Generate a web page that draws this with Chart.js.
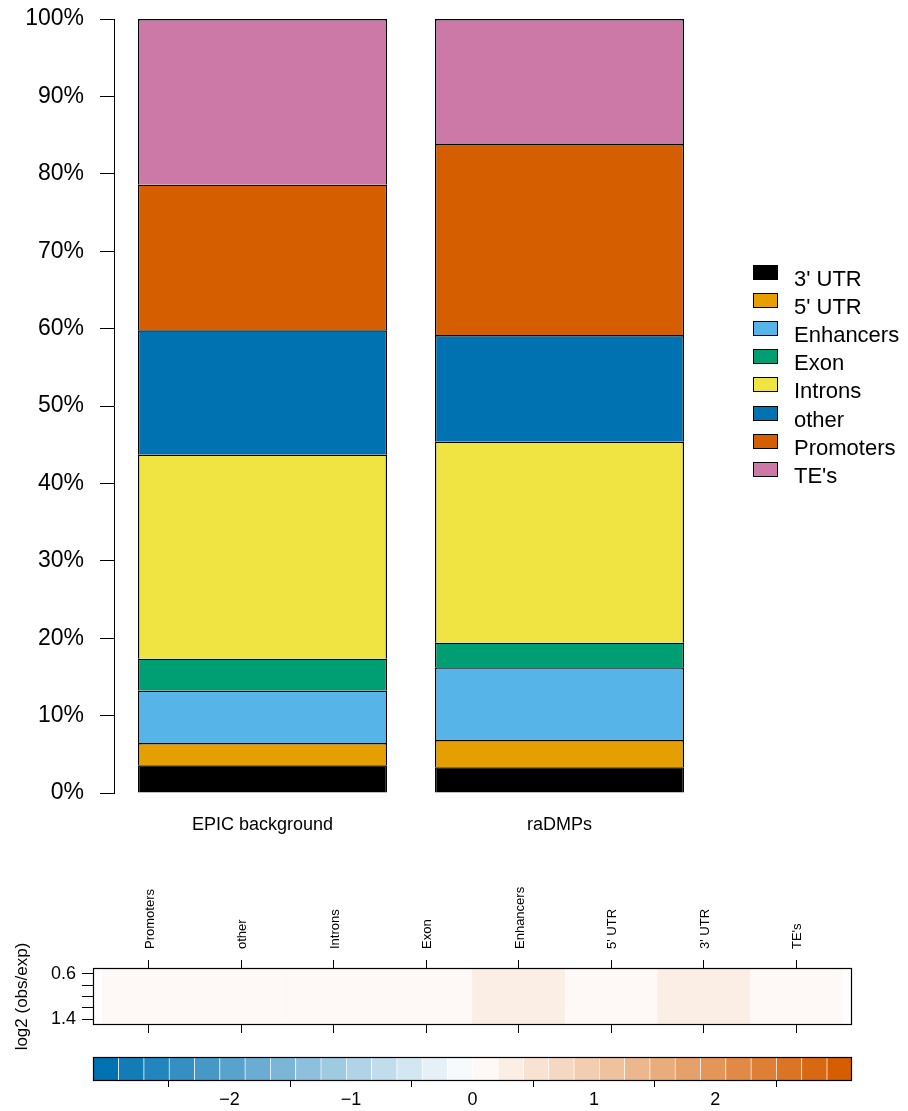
<!DOCTYPE html>
<html>
<head>
<meta charset="utf-8">
<script src="https://cdn.jsdelivr.net/npm/chart.js@4/dist/chart.umd.min.js"></script>
<style>
  html, body { margin: 0; padding: 0; background: #fff; }
  #wrap { position: relative; width: 908px; height: 1111px; }
  canvas { position: absolute; left: 0; }
</style>
</head>
<body>
<div id="wrap">
  <canvas id="bars" width="908" height="860" style="top:0"></canvas>
  <canvas id="heat" width="908" height="241" style="top:870px"></canvas>
  <canvas id="key" width="908" height="71" style="top:1040px"></canvas>
</div>
<script>
// ---- stacked composition (% of probes per genomic region) ----
const groups = ['EPIC background', 'raDMPs'];
const regionNames = ["3' UTR", "5' UTR", 'Enhancers', 'Exon', 'Introns', 'other', 'Promoters', "TE's"];
const utr3      = [3.58, 3.32];
const utr5      = [2.88, 3.53];
const enhancers = [6.76, 9.39];
const exon      = [4.14, 3.18];
const introns   = [26.35, 25.97];
const other     = [16.07, 13.78];
const promoters = [18.82, 24.68];
const tes       = [21.40, 16.15];
const regionColors = ['#000000', '#E69F00', '#56B4E9', '#009E73', '#F0E442', '#0072B2', '#D55E00', '#CC79A7'];

// ---- enrichment strip: log2(obs/exp) per region ----
const heatLabels = ['Promoters', 'other', 'Introns', 'Exon', 'Enhancers', "5' UTR", "3' UTR", "TE's"];
const heatValues = [0.08, 0.05, 0.06, 0.04, 0.24, 0.07, 0.22, 0.05];
const heatRowTicks = [0.6, 0.8, 1.0, 1.2, 1.4];
const heatRowLabels = ['0.6', '', '', '', '1.4'];
const keyTicks = [-2, -1, 0, 1, 2];

// diverging palette, 30 bins over [-2.5, 2.5]
const LOW = [0, 114, 178], MID = [255, 255, 255], HIGH = [213, 94, 0];
const NBINS = 30, ZMIN = -2.5, ZMAX = 2.5;
function binColor(k) {
  const t = k / (NBINS - 1);
  let a, b, f;
  if (t <= 0.5) { a = LOW; b = MID; f = t / 0.5; } else { a = MID; b = HIGH; f = (t - 0.5) / 0.5; }
  return 'rgb(' + a.map((c, j) => Math.round(c + (b[j] - c) * f)).join(',') + ')';
}
function valueColor(v) {
  let k = Math.floor((v - ZMIN) / ((ZMAX - ZMIN) / NBINS));
  k = Math.max(0, Math.min(NBINS - 1, k));
  return binColor(k);
}

Chart.defaults.font.family = '"Liberation Sans", Arial, Helvetica, sans-serif';
Chart.defaults.color = '#000';

// keep the plot area exactly where the layout padding puts it
function noEdgePadding(s) { s.paddingTop = 0; s.paddingBottom = 0; s.paddingLeft = 0; s.paddingRight = 0; }

// legend drawn to the right of the bars, one entry per dataset
const regionKey = {
  id: 'regionKey',
  afterDraw(chart, args, o) {
    const ctx = chart.ctx;
    ctx.save();
    ctx.font = '22px "Liberation Sans", Arial, Helvetica, sans-serif';
    ctx.textBaseline = 'alphabetic';
    ctx.textAlign = 'left';
    chart.data.datasets.forEach((ds, i) => {
      const y = Math.round(o.top + i * o.step);
      ctx.fillStyle = ds.backgroundColor;
      ctx.fillRect(o.left, y, o.boxW, o.boxH);
      ctx.strokeStyle = '#000';
      ctx.lineWidth = 1;
      ctx.strokeRect(o.left + 0.5, y + 0.5, o.boxW - 1, o.boxH - 1);
      ctx.fillStyle = '#000';
      ctx.fillText(ds.label, o.textLeft, y + o.baseline);
    });
    ctx.restore();
  }
};

// black box around the plotting area
const frame = {
  id: 'frame',
  afterDatasetsDraw(chart) {
    const a = chart.chartArea, ctx = chart.ctx;
    ctx.save();
    ctx.strokeStyle = '#000';
    ctx.lineWidth = 1.2;
    ctx.strokeRect(Math.round(a.left) + 0.5, Math.round(a.top) + 0.5,
                   Math.round(a.right - a.left) - 1, Math.round(a.bottom - a.top) - 1);
    ctx.restore();
  }
};

const seriesValues = [utr3, utr5, enhancers, exon, introns, other, promoters, tes];

new Chart(document.getElementById('bars'), {
  type: 'bar',
  data: {
    labels: groups,
    datasets: regionNames.map((name, i) => ({
      label: name,
      data: seriesValues[i],
      backgroundColor: regionColors[i],
      borderColor: '#000',
      borderWidth: 1.4,
      inflateAmount: 0,
      barPercentage: 249 / 297,
      categoryPercentage: 1
    }))
  },
  plugins: [regionKey],
  options: {
    responsive: false,
    animation: false,
    layout: { padding: { top: 19, right: 200, left: 0, bottom: 0 } },
    plugins: {
      legend: { display: false },
      tooltip: { enabled: false },
      regionKey: { left: 753, top: 265, step: 28.1, boxW: 25, boxH: 15, textLeft: 794, baseline: 21 }
    },
    scales: {
      x: {
        stacked: true,
        grid: { display: false, drawTicks: false },
        border: { display: false },
        ticks: { font: { size: 18 }, padding: 21, color: '#000' },
        afterFit(s) { s.height = 67; noEdgePadding(s); }
      },
      y: {
        stacked: true,
        min: 0, max: 100,
        ticks: { stepSize: 10, callback: v => v + '%', font: { size: 23 }, padding: 16, color: '#000' },
        grid: { drawOnChartArea: false, tickLength: 14, color: '#000' },
        border: { display: true, color: '#000' },
        afterFit(s) { s.width = 114; noEdgePadding(s); }
      }
    }
  }
});

new Chart(document.getElementById('heat'), {
  type: 'bar',
  data: {
    datasets: [{
      data: heatValues.map((v, i) => ({ x: i + 1, y: [0.5, 1.5] })),
      backgroundColor: heatValues.map(valueColor),
      borderWidth: 0,
      barPercentage: 1,
      categoryPercentage: 1
    }]
  },
  plugins: [frame],
  options: {
    responsive: false,
    animation: false,
    layout: { padding: { top: 0, right: 56, left: 0, bottom: 0 } },
    plugins: { legend: { display: false }, tooltip: { enabled: false } },
    scales: {
      x: {
        type: 'linear', position: 'bottom', min: 0.4, max: 8.6, offset: false,
        grid: { offset: false, drawOnChartArea: false, tickLength: 8, color: '#000' },
        border: { display: false },
        ticks: { display: false },
        afterBuildTicks(s) { s.ticks = heatLabels.map((_, i) => ({ value: i + 1 })); },
        afterFit(s) { s.height = 86; noEdgePadding(s); }
      },
      xTop: {
        type: 'linear', position: 'top', min: 0.4, max: 8.6, offset: false,
        grid: { offset: false, drawOnChartArea: false, tickLength: 8, color: '#000' },
        border: { display: false },
        ticks: {
          autoSkip: false, minRotation: 90, maxRotation: 90, padding: 11, labelOffset: 17,
          font: { size: 13 }, color: '#000',
          callback: (v, i) => heatLabels[i]
        },
        afterBuildTicks(s) { s.ticks = heatLabels.map((_, i) => ({ value: i + 1 })); },
        afterFit(s) { s.height = 98; noEdgePadding(s); }
      },
      y: {
        type: 'linear', reverse: true, min: 0.5, max: 1.5,
        grid: { drawOnChartArea: false, tickLength: 11, color: '#000' },
        border: { display: false },
        ticks: { autoSkip: false, font: { size: 18 }, padding: 6, color: '#000', callback: (v, i) => heatRowLabels[i] },
        afterBuildTicks(s) { s.ticks = heatRowTicks.map(v => ({ value: v })); },
        title: { display: true, text: 'log2 (obs/exp)', font: { size: 17 }, color: '#000', padding: { top: 12, bottom: 0 } },
        afterFit(s) { s.width = 93; noEdgePadding(s); }
      }
    }
  }
});

const keyBins = Array.from({ length: NBINS }, (_, k) => k);
new Chart(document.getElementById('key'), {
  type: 'bar',
  data: {
    labels: keyBins,
    datasets: [{
      data: keyBins.map(() => [0, 1]),
      backgroundColor: keyBins.map(binColor),
      borderColor: 'rgba(255,255,255,0.25)',
      borderWidth: { left: 1, right: 0, top: 0, bottom: 0 },
      borderSkipped: false,
      barPercentage: 1,
      categoryPercentage: 1
    }]
  },
  plugins: [frame],
  options: {
    responsive: false,
    animation: false,
    layout: { padding: { top: 17, right: 56, left: 93, bottom: 0 } },
    plugins: { legend: { display: false }, tooltip: { enabled: false } },
    scales: {
      x: { display: false },
      y: { display: false, min: 0, max: 1 },
      z: {
        type: 'linear', position: 'bottom', min: ZMIN, max: ZMAX,
        grid: { drawOnChartArea: false, tickLength: 6, color: '#000' },
        border: { display: false },
        ticks: { font: { size: 18 }, padding: 2, color: '#000', callback: v => String(v).replace('-', '\u2212') },
        afterBuildTicks(s) { s.ticks = keyTicks.map(v => ({ value: v })); },
        afterFit(s) { s.height = 30; noEdgePadding(s); }
      }
    }
  }
});
</script>
</body>
</html>
